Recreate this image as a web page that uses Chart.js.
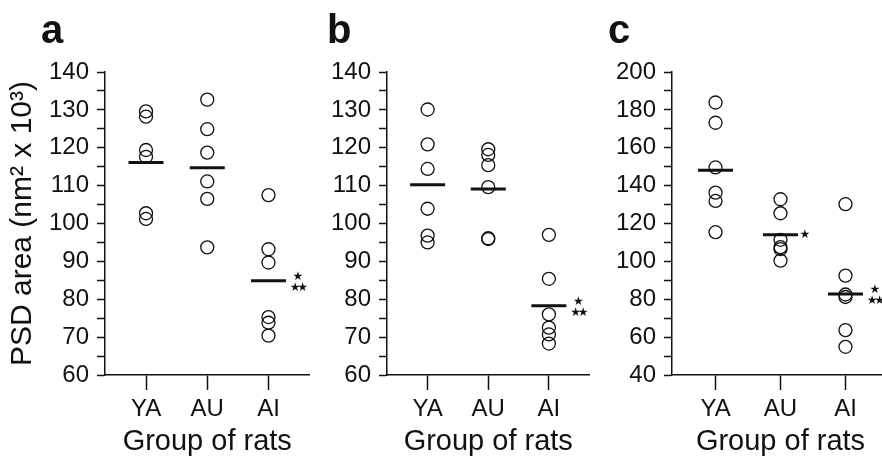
<!DOCTYPE html>
<html>
<head>
<meta charset="utf-8">
<script src="https://cdn.jsdelivr.net/npm/chart.js@4.4.1/dist/chart.umd.min.js"></script>
<style>
  html, body { margin: 0; padding: 0; background: #fff; overflow: hidden; }
  #wrap { position: relative; width: 882px; height: 458px; overflow: hidden; background: #fff; }
  canvas { position: absolute; top: 0; }
  .letter { position: absolute; top: 9px; font: bold 40px 'Liberation Sans', Arial, sans-serif; color: #111; line-height: 1; }
</style>
</head>
<body>
<div id="wrap">
  <canvas id="panelA" width="330" height="458" style="left:0px"></canvas>
  <canvas id="panelB" width="280" height="458" style="left:330px"></canvas>
  <canvas id="panelC" width="300" height="458" style="left:610px"></canvas>
  <div class="letter" style="left:41px">a</div>
  <div class="letter" style="left:327px">b</div>
  <div class="letter" style="left:608px">c</div>
</div>
<script>
const groups = ['YA', 'AU', 'AI'];

// panel a
const aYA = [129.6, 128.2, 119.4, 117.6, 102.7, 101.2];
const aAU = [132.7, 124.9, 118.7, 111.1, 106.5, 93.7];
const aAI = [107.5, 93.2, 89.7, 75.3, 73.8, 70.4];
const aMeans = [116.1, 114.7, 84.9];
const aStars = [[], [], ['★', '★★']];

// panel b
const bYA = [130.1, 120.9, 114.4, 103.9, 96.8, 95.0];
const bAU = [119.6, 118.1, 115.4, 109.6, 96.1, 95.9];
const bAI = [97.0, 85.4, 76.0, 72.5, 70.7, 68.3];
const bMeans = [110.2, 109.1, 78.3];
const bStars = [[], [], ['★', '★★']];

// panel c
const cYA = [183.9, 173.2, 149.6, 136.3, 131.9, 115.4];
const cAU = [132.8, 125.4, 111.4, 107.5, 106.5, 100.4];
const cAI = [130.2, 92.5, 82.5, 81.2, 63.7, 54.9];
const cMeans = [148.1, 114.0, 82.8];
const cStars = [[], ['★'], ['★', '★★']];

// y axis ranges: [min, max, minor step, labelled step]
const aAxis = [60, 140, 5, 10];
const bAxis = [60, 140, 5, 10];
const cAxis = [40, 200, 10, 20];

const FONT = "'Liberation Sans', Arial, sans-serif";
const INK = '#111';

// draws a row of stars centred on cx, 7.5px apart
function starRow(ctx, text, cx, cy) {
    const chars = [...text];
    chars.forEach((ch, k) => {
        ctx.fillText(ch, cx + (k - (chars.length - 1) / 2) * 7.5, cy);
    });
}

const starPlugin = {
    id: 'stars',
    afterDatasetsDraw(chart, args, opts) {
        const { ctx } = chart;
        const x = chart.scales.x;
        const y = chart.scales.y;
        ctx.save();
        ctx.fillStyle = INK;
        ctx.font = "12px 'DejaVu Sans'";
        ctx.textBaseline = 'middle';
        ctx.textAlign = 'center';
        opts.marks.forEach((lines, i) => {
            if (!lines.length) return;
            const end = x.getPixelForValue(i + 1) + 17.5;
            const py = y.getPixelForValue(opts.means[i]);
            if (lines.length === 1) {
                starRow(ctx, lines[0], end + 7, py);
            } else {
                starRow(ctx, lines[0], end + 12, py - 4);
                starRow(ctx, lines[1], end + 13, py + 7);
            }
        });
        ctx.restore();
    }
};

function points(values, i) {
    return values.map(v => ({ x: i + 1, y: v }));
}

function makePanel(id, series, means, stars, axis, yWidth, padRight, showTitle) {
    const [yMin, yMax, step, labelStep] = axis;
    return new Chart(document.getElementById(id).getContext('2d'), {
        type: 'scatter',
        data: {
            datasets: [{
                data: series.flatMap((vals, i) => points(vals, i)),
                pointStyle: 'circle',
                pointRadius: 6.5,
                backgroundColor: 'rgba(0,0,0,0)',
                borderColor: INK,
                borderWidth: 1.3
            }, {
                data: means.map((m, i) => ({ x: i + 1, y: m })),
                pointStyle: 'line',
                pointRadius: 17.5,
                borderColor: INK,
                borderWidth: 3
            }]
        },
        options: {
            responsive: false,
            animation: false,
            devicePixelRatio: 1,
            layout: { padding: { top: 72, right: padRight, bottom: 0, left: 0 } },
            plugins: {
                legend: { display: false },
                tooltip: { enabled: false },
                stars: { marks: stars, means: means }
            },
            scales: {
                x: {
                    type: 'linear',
                    min: 0.33,
                    max: 3.67,
                    afterBuildTicks: s => { s.ticks = groups.map((g, i) => ({ value: i + 1 })); },
                    afterFit: s => { s.height = 83; },
                    ticks: {
                        callback: v => groups[v - 1] || '',
                        font: { family: FONT, size: 24 },
                        color: INK,
                        padding: 5,
                        autoSkip: false,
                        maxRotation: 0
                    },
                    grid: { drawOnChartArea: false, tickLength: 15, tickColor: INK, tickWidth: 1.5 },
                    border: { color: INK, width: 1.5 },
                    title: {
                        display: true,
                        text: 'Group of rats',
                        font: { family: FONT, size: 29, lineHeight: 1.1 },
                        color: INK,
                        padding: { top: 0, bottom: 0 }
                    }
                },
                y: {
                    min: yMin,
                    max: yMax,
                    afterFit: s => { s.width = yWidth; },
                    ticks: {
                        stepSize: step,
                        autoSkip: false,
                        callback: v => (v % labelStep === 0 ? String(v) : ''),
                        font: { family: FONT, size: 24 },
                        color: INK,
                        padding: 8
                    },
                    grid: { drawOnChartArea: false, tickLength: 8, tickColor: INK, tickWidth: 1.5 },
                    border: { color: INK, width: 1.5 },
                    title: {
                        display: showTitle,
                        text: 'PSD area (nm² x 10³)',
                        font: { family: FONT, size: 30 },
                        color: INK,
                        padding: { top: 5, bottom: 0 }
                    }
                }
            }
        },
        plugins: [starPlugin]
    });
}

makePanel('panelA', [aYA, aAU, aAI], aMeans, aStars, aAxis, 105, 8, true);
makePanel('panelB', [bYA, bAU, bAI], bMeans, bStars, bAxis, 57, 5, false);
makePanel('panelC', [cYA, cAU, cAI], cMeans, cStars, cAxis, 62, 21, false);
</script>
</body>
</html>
